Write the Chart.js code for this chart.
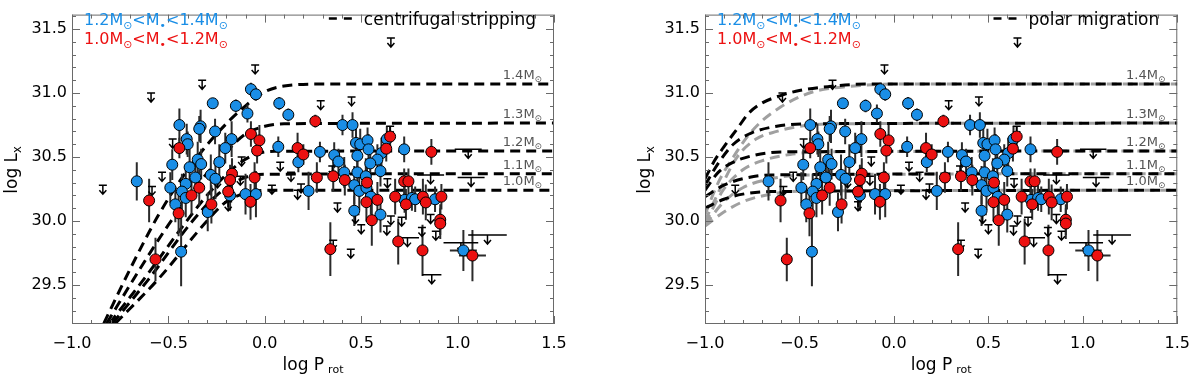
<!DOCTYPE html>
<html>
<head>
<meta charset="utf-8">
<script src="https://cdn.jsdelivr.net/npm/chart.js@4.4.1/dist/chart.umd.min.js"></script>
<style>
  body { margin: 0; background: #fff; }
  .panel { position: absolute; top: 0; width: 600px; height: 378px; }
</style>
</head>
<body>
<div class="panel" style="left:0"><canvas id="strip" width="600" height="378"></canvas></div>
<div class="panel" style="left:600px"><canvas id="polar" width="600" height="378"></canvas></div>
<script>
// axis ranges and tick labels
const xRange = [-1.0, 1.5];
const yRange = [29.195, 31.613];
const xTicks = [-1.0, -0.5, 0.0, 0.5, 1.0, 1.5];
const yTicks = [29.5, 30.0, 30.5, 31.0, 31.5];

// model masses and their saturation levels (log Lx)
const massLabels = ['1.4', '1.3', '1.2', '1.1', '1.0'];
const plateau = [31.07, 30.765, 30.547, 30.37, 30.24];

// stars 1.2-1.4 Msun: [log Prot, log Lx, dLx, dProt]
const blueStars = [
  [-0.072, 31.03, 0.05, 0], [-0.046, 30.99, 0.05, 0], [-0.27, 30.92, 0.04, 0], [-0.15, 30.90, 0.05, 0],
  [-0.09, 30.84, 0.07, 0], [-0.443, 30.75, 0.13, 0], [-0.333, 30.74, 0.13, 0], [-0.34, 30.72, 0.10, 0],
  [-0.258, 30.70, 0.10, 0], [-0.405, 30.64, 0.12, 0], [-0.40, 30.60, 0.10, 0], [-0.172, 30.64, 0.14, 0],
  [-0.205, 30.57, 0.12, 0], [0.07, 30.58, 0.08, 0], [-0.348, 30.48, 0.14, 0], [-0.33, 30.445, 0.12, 0],
  [-0.236, 30.46, 0.14, 0], [-0.48, 30.44, 0.12, 0], [-0.39, 30.42, 0.14, 0], [-0.28, 30.36, 0.16, 0],
  [-0.256, 30.33, 0.16, 0], [-0.36, 30.34, 0.12, 0], [-0.664, 30.31, 0.15, 0], [-0.41, 30.29, 0.14, 0],
  [-0.49, 30.26, 0.12, 0], [-0.43, 30.23, 0.14, 0], [-0.41, 30.18, 0.15, 0], [-0.464, 30.13, 0.14, 0],
  [-0.296, 30.07, 0.15, 0], [-0.434, 29.76, 0.27, 0], [-0.18, 30.20, 0.12, 0], [-0.10, 30.21, 0.16, 0],
  [-0.046, 30.21, 0.18, 0], [0.075, 30.92, 0.05, 0], [0.122, 30.83, 0.05, 0], [0.403, 30.75, 0.08, 0],
  [0.455, 30.75, 0.10, 0], [0.174, 30.46, 0.08, 0], [0.286, 30.54, 0.08, 0], [0.36, 30.515, 0.10, 0],
  [0.382, 30.465, 0.10, 0], [0.227, 30.235, 0.15, 0], [0.412, 30.38, 0.12, 0], [0.464, 30.28, 0.15, 0],
  [0.49, 30.235, 0.15, 0], [0.48, 30.38, 0.15, 0], [0.524, 30.35, 0.14, 0], [0.527, 30.26, 0.14, 0],
  [0.55, 30.19, 0.14, 0], [0.464, 30.08, 0.12, 0], [0.60, 30.05, 0.14, 0], [0.725, 30.165, 0.10, 0],
  [0.473, 30.61, 0.12, 0], [0.495, 30.60, 0.12, 0], [0.533, 30.63, 0.10, 0], [0.538, 30.56, 0.12, 0],
  [0.48, 30.51, 0.12, 0], [0.605, 30.53, 0.12, 0], [0.584, 30.48, 0.12, 0], [0.547, 30.45, 0.12, 0],
  [0.633, 30.64, 0.10, 0], [0.723, 30.56, 0.10, 0], [0.60, 30.39, 0.12, 0], [0.763, 30.18, 0.10, 0],
  [0.78, 30.17, 0.10, 0], [0.883, 30.17, 0.10, 0], [1.03, 29.77, 0.16, 0.07]
];

// stars 1.0-1.2 Msun
const redStars = [
  [-0.443, 30.57, 0.08, 0], [-0.072, 30.68, 0.10, 0], [-0.028, 30.63, 0.12, 0], [-0.04, 30.55, 0.10, 0],
  [0.17, 30.57, 0.12, 0], [-0.17, 30.37, 0.12, 0], [-0.18, 30.32, 0.12, 0], [-0.053, 30.34, 0.12, 0],
  [-0.34, 30.26, 0.14, 0], [-0.60, 30.16, 0.17, 0], [-0.447, 30.06, 0.18, 0], [-0.567, 29.70, 0.17, 0],
  [-0.38, 30.20, 0.15, 0], [-0.277, 30.13, 0.15, 0], [-0.19, 30.23, 0.12, 0], [-0.074, 30.15, 0.14, 0],
  [0.262, 30.78, 0.05, 0], [0.20, 30.52, 0.08, 0], [0.27, 30.34, 0.12, 0], [0.355, 30.35, 0.12, 0],
  [0.415, 30.32, 0.12, 0], [0.53, 30.30, 0.14, 0], [0.527, 30.147, 0.15, 0], [0.584, 30.165, 0.14, 0],
  [0.555, 30.006, 0.20, 0], [0.676, 30.19, 0.14, 0], [0.65, 30.66, 0.08, 0], [0.63, 30.565, 0.10, 0],
  [0.864, 30.54, 0.10, 0.03], [0.723, 30.31, 0.10, 0], [0.745, 30.31, 0.10, 0], [0.732, 30.13, 0.12, 0],
  [0.82, 30.19, 0.14, 0], [0.835, 30.145, 0.14, 0], [0.916, 30.19, 0.10, 0], [0.91, 30.01, 0.12, 0.03],
  [0.91, 29.98, 0.12, 0.03], [0.34, 29.78, 0.21, 0], [0.692, 29.84, 0.18, 0], [0.818, 29.77, 0.20, 0],
  [1.077, 29.73, 0.20, 0.07]
];

// upper limits: [log Prot, log Lx, dProt]
const upperLimits = [
  [-0.84, 30.28, 0], [-0.59, 31.0, 0], [-0.325, 31.1, 0], [-0.05, 31.22, 0], [-0.478, 30.64, 0],
  [-0.533, 30.38, 0], [0.08, 30.46, 0], [-0.12, 30.50, 0], [0.136, 30.38, 0], [-0.585, 30.27, 0],
  [0.037, 30.28, 0], [0.17, 30.24, 0], [-0.19, 30.15, 0], [-0.127, 30.35, 0], [-0.245, 30.33, 0],
  [0.29, 30.94, 0], [0.45, 30.97, 0], [0.65, 30.74, 0], [0.188, 30.29, 0], [0.35, 30.43, 0],
  [0.377, 30.14, 0], [0.50, 29.97, 0], [0.47, 30.05, 0], [0.633, 29.96, 0], [0.654, 30.04, 0],
  [0.636, 30.33, 0], [0.446, 29.78, 0], [0.355, 29.85, 0], [0.74, 29.87, 0.06], [0.866, 29.58, 0.05],
  [1.155, 29.89, 0.10], [1.017, 29.83, 0.09], [1.055, 30.56, 0.07], [1.07, 30.34, 0.07], [0.654, 31.43, 0],
  [0.86, 30.36, 0.07], [0.887, 29.92, 0], [0.815, 29.95, 0], [0.71, 30.03, 0], [0.86, 30.05, 0]
];

// centrifugal stripping models
const strip14 = [[-0.835, 29.2], [-0.7, 29.62], [-0.55, 30.05], [-0.4, 30.4], [-0.25, 30.68], [-0.1, 30.9], [0.0, 31.01], [0.1, 31.055], [0.3, 31.07], [1.5, 31.07]];
const strip13 = [[-0.82, 29.2], [-0.65, 29.62], [-0.5, 29.97], [-0.35, 30.28], [-0.2, 30.54], [-0.1, 30.68], [0.0, 30.74], [0.1, 30.76], [1.5, 30.765]];
const strip12 = [[-0.805, 29.2], [-0.6, 29.6], [-0.43, 29.95], [-0.3, 30.2], [-0.15, 30.43], [-0.05, 30.52], [0.05, 30.545], [1.5, 30.547]];
const strip11 = [[-0.79, 29.2], [-0.6, 29.55], [-0.375, 30.0], [-0.25, 30.2], [-0.12, 30.33], [0.0, 30.365], [1.5, 30.37]];
const strip10 = [[-0.775, 29.2], [-0.55, 29.55], [-0.3, 30.0], [-0.2, 30.15], [-0.08, 30.225], [0.05, 30.24], [1.5, 30.24]];

// polar migration models (black) and alternative (grey)
const polar14 = [[-1.0, 30.33], [-0.95, 30.47], [-0.9, 30.58], [-0.83, 30.72], [-0.77, 30.84], [-0.7, 30.92], [-0.6, 30.98], [-0.5, 31.02], [-0.35, 31.05], [-0.15, 31.07], [1.5, 31.07]];
const polar13 = [[-1.0, 30.28], [-0.93, 30.45], [-0.85, 30.6], [-0.75, 30.69], [-0.62, 30.74], [-0.45, 30.76], [1.5, 30.765]];
const polar12 = [[-1.0, 30.24], [-0.93, 30.38], [-0.85, 30.46], [-0.75, 30.51], [-0.6, 30.54], [1.5, 30.547]];
const polar11 = [[-1.0, 30.19], [-0.9, 30.28], [-0.8, 30.33], [-0.65, 30.36], [1.5, 30.37]];
const polar10 = [[-1.0, 30.10], [-0.9, 30.17], [-0.8, 30.21], [-0.65, 30.23], [1.5, 30.24]];
const grey14 = [[-1.0, 30.05], [-0.93, 30.3], [-0.85, 30.5], [-0.77, 30.67], [-0.7, 30.78], [-0.6, 30.89], [-0.5, 30.97], [-0.4, 31.02], [-0.25, 31.05], [0.0, 31.07], [1.5, 31.07]];
const grey13 = [[-1.0, 30.0], [-0.92, 30.25], [-0.83, 30.5], [-0.73, 30.64], [-0.62, 30.70], [-0.5, 30.74], [-0.3, 30.76], [1.5, 30.765]];
const grey12 = [[-1.0, 29.98], [-0.9, 30.25], [-0.8, 30.40], [-0.7, 30.47], [-0.55, 30.52], [-0.35, 30.54], [1.5, 30.547]];
const grey11 = [[-1.0, 29.97], [-0.9, 30.15], [-0.8, 30.26], [-0.65, 30.33], [-0.45, 30.36], [1.5, 30.37]];
const grey10 = [[-1.0, 29.96], [-0.9, 30.07], [-0.8, 30.15], [-0.65, 30.21], [-0.45, 30.235], [1.5, 30.24]];

const BLUE = '#1a8ee6';
const RED = '#ec1111';
const FONT = '"DejaVu Sans", sans-serif';
const FRAME = '#6a6a6a';

function fmt(v) {
  return (v < 0 ? '\u2212' : '') + Math.abs(v).toFixed(1);
}

// draws text pieces, some of them as subscripts
function richText(ctx, parts, x, y, size, color, align) {
  ctx.fillStyle = color;
  ctx.textBaseline = 'alphabetic';
  ctx.textAlign = 'left';
  const widths = parts.map(p => {
    ctx.font = (p[1] ? size * 0.68 : size) + 'px ' + FONT;
    return ctx.measureText(p[0]).width;
  });
  const total = widths.reduce((a, b) => a + b, 0);
  let cx = align === 'right' ? x - total : x;
  parts.forEach((p, i) => {
    ctx.font = (p[1] ? size * 0.68 : size) + 'px ' + FONT;
    ctx.fillText(p[0], cx, y + (p[1] ? size * 0.22 : 0));
    cx += widths[i];
  });
  return total;
}

const decor = {
  id: 'decor',
  beforeDatasetDraw(chart, args) {
    if (chart.data.datasets[args.index].label !== 'blue') return;
    const { ctx, chartArea: a, scales: { x, y } } = chart;
    ctx.save();
    ctx.beginPath();
    ctx.rect(a.left, a.top, a.right - a.left, a.bottom - a.top);
    ctx.clip();
    // error bars
    ctx.strokeStyle = '#2b2b2b';
    ctx.lineWidth = 2;
    blueStars.concat(redStars).forEach(p => {
      const px = x.getPixelForValue(p[0]);
      ctx.beginPath();
      ctx.moveTo(px, y.getPixelForValue(p[1] + p[2]));
      ctx.lineTo(px, y.getPixelForValue(p[1] - p[2]));
      if (p[3]) {
        const py = y.getPixelForValue(p[1]);
        ctx.moveTo(x.getPixelForValue(p[0] - p[3]), py);
        ctx.lineTo(x.getPixelForValue(p[0] + p[3]), py);
      }
      ctx.stroke();
    });
    // upper limits
    ctx.strokeStyle = '#000';
    ctx.lineWidth = 1.5;
    upperLimits.forEach(p => {
      const px = x.getPixelForValue(p[0]);
      const py = y.getPixelForValue(p[1]);
      const l = p[2] ? x.getPixelForValue(p[0] - p[2]) : px - 4;
      const r = p[2] ? x.getPixelForValue(p[0] + p[2]) : px + 4;
      ctx.beginPath();
      ctx.moveTo(l, py); ctx.lineTo(r, py);
      ctx.moveTo(px, py); ctx.lineTo(px, py + 9);
      ctx.moveTo(px - 3.5, py + 5); ctx.lineTo(px, py + 9); ctx.lineTo(px + 3.5, py + 5);
      ctx.stroke();
    });
    ctx.restore();
  },
  afterDraw(chart, args, opts) {
    const { ctx, chartArea: a, scales: { x, y } } = chart;
    ctx.save();
    // frame with inward ticks on all sides
    ctx.strokeStyle = FRAME;
    ctx.lineWidth = 1;
    ctx.strokeRect(a.left + 0.5, a.top + 0.5, a.right - a.left - 1, a.bottom - a.top - 1);
    ctx.beginPath();
    for (let k = -10; k <= 15; k++) {
      const px = Math.round(x.getPixelForValue(k / 10)) + 0.5;
      const len = k % 5 === 0 ? 8 : 4;
      ctx.moveTo(px, a.bottom); ctx.lineTo(px, a.bottom - len);
      ctx.moveTo(px, a.top); ctx.lineTo(px, a.top + len);
    }
    for (let k = 292; k <= 316; k++) {
      const v = k / 10;
      if (v < yRange[0] || v > yRange[1]) continue;
      const py = Math.round(y.getPixelForValue(v)) + 0.5;
      const len = k % 5 === 0 ? 8 : 4;
      ctx.moveTo(a.left, py); ctx.lineTo(a.left + len, py);
      ctx.moveTo(a.right, py); ctx.lineTo(a.right - len, py);
    }
    ctx.stroke();

    // axis titles
    const cx = (a.left + a.right) / 2;
    ctx.font = '17px ' + FONT;
    const w1 = ctx.measureText('log P').width;
    ctx.font = '11px ' + FONT;
    const w2 = ctx.measureText('rot').width;
    richText(ctx, [['log P', false]], cx - (w1 + w2 + 4) / 2, 370, 17, '#000', 'left');
    ctx.font = '11px ' + FONT;
    ctx.fillText('rot', cx - (w1 + w2 + 4) / 2 + w1 + 4, 373);

    ctx.save();
    ctx.translate(a.left - 55, (a.top + a.bottom) / 2);
    ctx.rotate(-Math.PI / 2);
    ctx.font = '17px ' + FONT;
    const wl = ctx.measureText('log L').width;
    richText(ctx, [['log L', false], ['x', true]], -(wl + 8) / 2, 0, 17, '#000', 'left');
    ctx.restore();

    // mass legend
    const leg = [['1.2M', false], ['\u2299', true], ['<M', false], ['\u2022', true], ['<1.4M', false], ['\u2299', true]];
    richText(ctx, leg, a.left + 12, 25, 16, BLUE, 'left');
    const leg2 = [['1.0M', false], ['\u2299', true], ['<M', false], ['\u2022', true], ['<1.2M', false], ['\u2299', true]];
    richText(ctx, leg2, a.left + 12, 44, 16, RED, 'left');

    // model legend
    const tw = richText(ctx, [[opts.model, false]], a.right - 18, 25, 17, '#000', 'right');
    const dx = a.right - 18 - tw - 12;
    ctx.strokeStyle = '#000';
    ctx.lineWidth = 2.5;
    ctx.beginPath();
    ctx.moveTo(dx - 23, 18.5); ctx.lineTo(dx - 15, 18.5);
    ctx.moveTo(dx - 8, 18.5); ctx.lineTo(dx, 18.5);
    ctx.stroke();

    // curve labels
    massLabels.forEach((m, i) => {
      const py = y.getPixelForValue(plateau[i]) - 5;
      richText(ctx, [[m + 'M', false], ['\u2299', true]], a.right - 12, py, 13, '#555', 'right');
    });
    ctx.restore();
  }
};

function curveSet(pts, color, order) {
  return {
    data: pts.map(p => ({ x: p[0], y: p[1] })),
    showLine: true,
    borderColor: color,
    borderWidth: 3,
    borderDash: [10, 6],
    pointRadius: 0,
    fill: false,
    cubicInterpolationMode: 'monotone',
    order: order
  };
}

function makePanel(id, curves, model, axisWidth, padRight) {
  const datasets = [
    { label: 'red', data: redStars.map(p => ({ x: p[0], y: p[1] })), backgroundColor: RED,
      borderColor: '#000', borderWidth: 1, pointRadius: 5.5, order: 0 },
    { label: 'blue', data: blueStars.map(p => ({ x: p[0], y: p[1] })), backgroundColor: BLUE,
      borderColor: '#000', borderWidth: 1, pointRadius: 5.5, order: 1 }
  ].concat(curves);

  new Chart(document.getElementById(id), {
    type: 'scatter',
    data: { datasets: datasets },
    options: {
      responsive: false,
      animation: false,
      layout: { padding: { top: 4, right: padRight, left: 0, bottom: 0 } },
      plugins: { legend: { display: false }, tooltip: { enabled: false }, decor: { model: model } },
      scales: {
        x: {
          type: 'linear', min: xRange[0], max: xRange[1],
          afterBuildTicks: s => { s.ticks = xTicks.map(v => ({ value: v })); },
          afterFit: s => { s.height = 54; },
          grid: { display: false, drawTicks: false },
          border: { display: false },
          ticks: { callback: v => fmt(v), color: '#000', font: { family: FONT, size: 16 }, padding: 10, autoSkip: false, maxRotation: 0 }
        },
        y: {
          type: 'linear', min: yRange[0], max: yRange[1],
          afterBuildTicks: s => { s.ticks = yTicks.map(v => ({ value: v })); },
          afterFit: s => { s.width = axisWidth; },
          grid: { display: false, drawTicks: false },
          border: { display: false },
          ticks: { callback: v => fmt(v), color: '#000', font: { family: FONT, size: 16 }, padding: 5, autoSkip: false }
        }
      }
    },
    plugins: [decor]
  });
}

makePanel('strip', [strip14, strip13, strip12, strip11, strip10].map(c => curveSet(c, '#000', 2)),
  'centrifugal stripping', 72, 46);

makePanel('polar',
  [grey14, grey13, grey12, grey11, grey10].map(c => curveSet(c, '#a0a0a0', 3))
    .concat([polar14, polar13, polar12, polar11, polar10].map(c => curveSet(c, '#000', 2))),
  'polar migration', 105, 14);
</script>
</body>
</html>
